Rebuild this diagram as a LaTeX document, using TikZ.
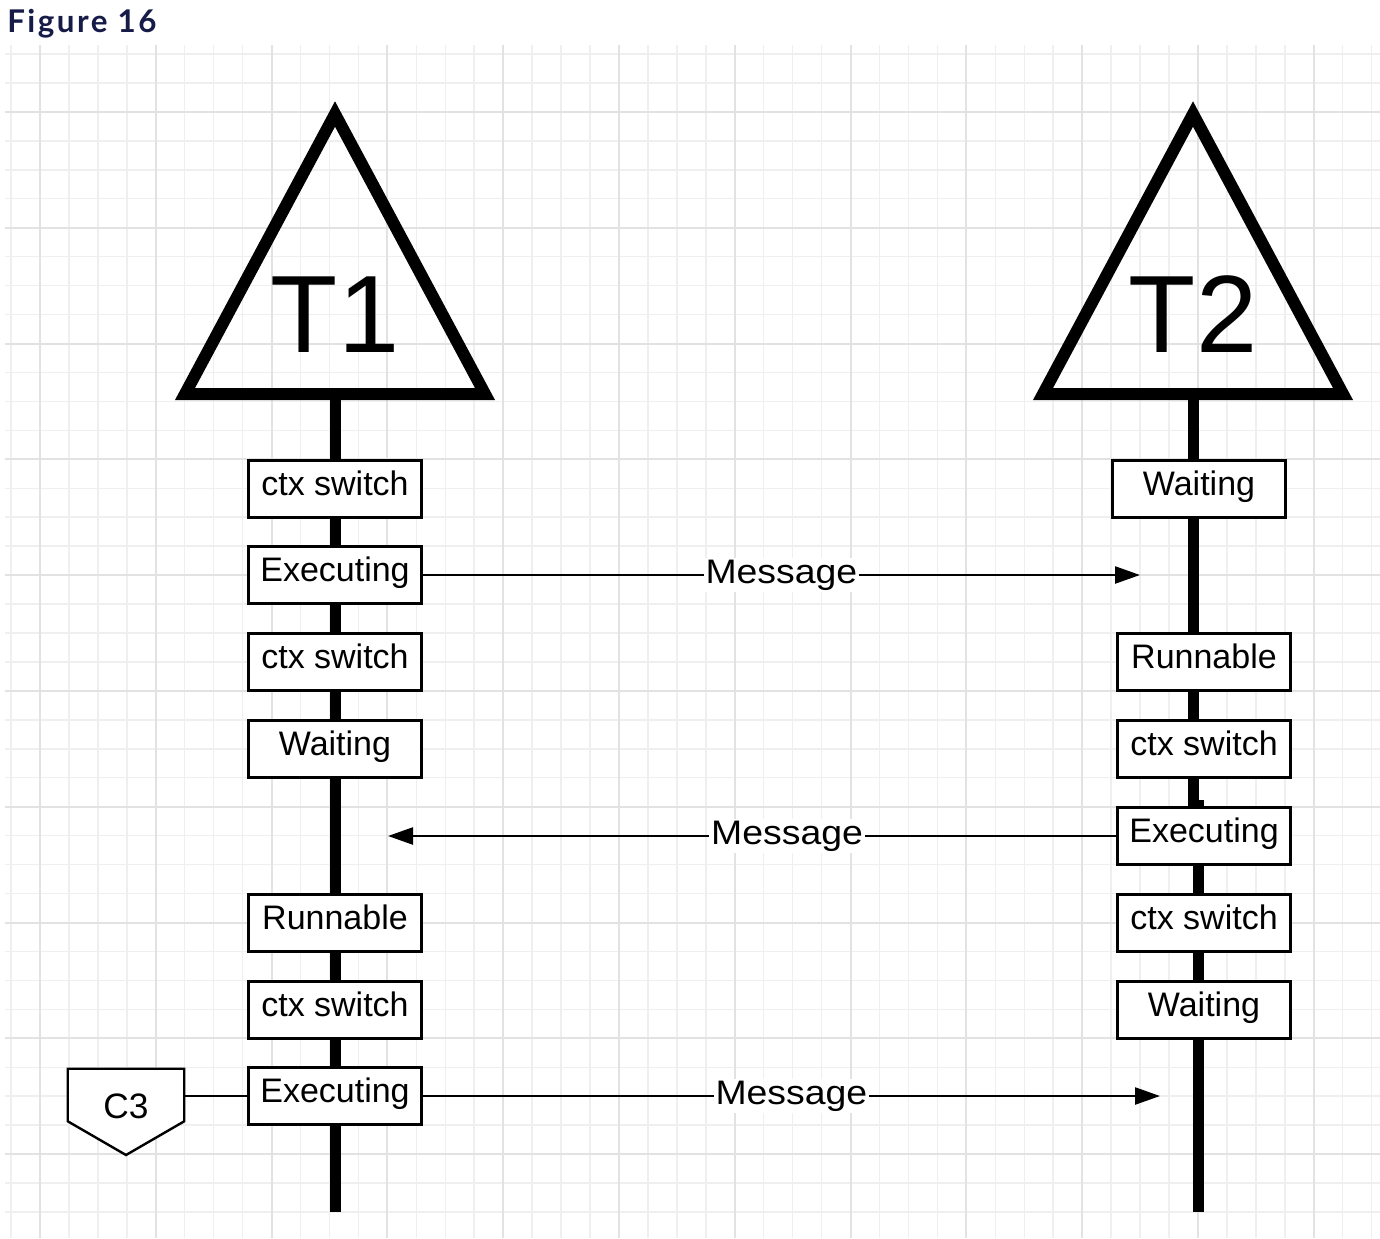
\documentclass[tikz,border=0pt]{standalone}
\usepackage{fontspec}
\setmainfont{Liberation Sans}
\newfontfamily\titlefont{Lato}[LetterSpace=8]
\usetikzlibrary{arrows.meta}
\definecolor{navy}{RGB}{22,27,72}
\definecolor{gminor}{RGB}{239,239,239}
\definecolor{gmajor}{RGB}{226,226,226}
\begin{document}
\begin{tikzpicture}[x=0.75pt,y=-0.75pt,
  gridminor/.style={draw=gminor, line width=1.1pt},
  gridmajor/.style={draw=gmajor, line width=1.4pt},
  statebox/.style={draw=black, line width=2pt, fill=white, minimum width=129.75pt, minimum height=42.75pt, inner sep=0pt, text height=18pt, text depth=8.25pt, font=\fontsize{25.5}{30}\selectfont},
  lifeline/.style={line width=8.25pt},
  tri/.style={line width=9pt, miter limit=10, line join=miter},
  msg/.style={line width=1.8pt, -{Triangle[length=18.75pt,width=12.75pt]}},
  msglbl/.style={fill=white, inner sep=1.5pt, font=\fontsize{25.5}{30}\selectfont},
  bigtxt/.style={font=\fontsize{82.5}{90}\selectfont, anchor=base, inner sep=0pt}
]
\useasboundingbox (0,0) rectangle (1380,1238);
\fill[white] (0,0) rectangle (1380,1238);
% grid
\foreach \k in {0,...,47} {
  \pgfmathsetmacro\gx{11+28.95*\k}
  \draw[gridminor] (\gx,45) -- (\gx,1238);
}
\foreach \k in {0,...,40} {
  \pgfmathsetmacro\gy{54+28.95*\k}
  \draw[gridminor] (5,\gy) -- (1380,\gy);
}
\foreach \m in {0,...,11} {
  \pgfmathsetmacro\gx{40+115.8*\m}
  \draw[gridmajor] (\gx,45) -- (\gx,1238);
}
\foreach \m in {0,...,9} {
  \pgfmathsetmacro\gy{112+115.8*\m}
  \draw[gridmajor] (5,\gy) -- (1380,\gy);
}
% title
\node[anchor=base west, inner sep=0pt, text=navy, font=\titlefont\bfseries\fontsize{23.5}{27}\selectfont] (title) at (7,33) {Figure 16};

% T1 triangle
\coordinate (t1apex) at (335,114);
\coordinate (t1left) at (185,394);
\coordinate (t1right) at (485,394);
\draw[tri] (t1apex) -- (t1right) -- (t1left) -- cycle;
\node[bigtxt] (t1) at (335,352) {T1};
% T2 triangle
\coordinate (t2apex) at (1193,114);
\coordinate (t2left) at (1043,394);
\coordinate (t2right) at (1343,394);
\draw[tri] (t2apex) -- (t2right) -- (t2left) -- cycle;
\node[bigtxt] (t2) at (1193,352) {T2};

% lifelines
\coordinate (l1top) at (335,394);
\coordinate (l1bot) at (335,1212);
\draw[lifeline] (l1top) -- (l1bot);
\coordinate (l2top) at (1193,394);
\coordinate (l2mid) at (1193,808);
\coordinate (l2midb) at (1198,800);
\coordinate (l2bot) at (1198,1212);
\draw[lifeline] (l2top) -- (l2mid);
\draw[lifeline] (l2midb) -- (l2bot);

% T1 boxes
\node[statebox] (a1) at (335,489) {ctx switch};
\node[statebox] (a2) at (335,575) {Executing};
\node[statebox] (a3) at (335,662) {ctx switch};
\node[statebox] (a4) at (335,749) {Waiting};
\node[statebox] (a5) at (335,923) {Runnable};
\node[statebox] (a6) at (335,1010) {ctx switch};
\node[statebox] (a7) at (335,1096) {Executing};
% T2 boxes
\node[statebox] (b1) at (1199,489) {Waiting};
\node[statebox] (b2) at (1204,662) {Runnable};
\node[statebox] (b3) at (1204,749) {ctx switch};
\node[statebox] (b4) at (1204,836) {Executing};
\node[statebox] (b5) at (1204,923) {ctx switch};
\node[statebox] (b6) at (1204,1010) {Waiting};

% messages
\coordinate (m1end) at (1140,575);
\coordinate (m2end) at (388,836);
\coordinate (m3end) at (1160,1096);
\draw[msg] (a2.east) -- node[msglbl, pos=0.5] (m1) {\scalebox{1.1}[1]{Message}} (m1end);
\draw[msg] (b4.west) -- node[msglbl, pos=0.452] (m2) {\scalebox{1.1}[1]{Message}} (m2end);
\draw[msg] (a7.east) -- node[msglbl, pos=0.5] (m3) {\scalebox{1.1}[1]{Message}} (m3end);

% C3
\node[inner sep=0pt, minimum width=87pt, minimum height=39pt] (c3box) at (126,1095) {};
\draw[line width=1.8pt, fill=white] (c3box.north west) -- (c3box.north east) -- (c3box.south east) -- (126,1155) -- (c3box.south west) -- cycle;
\node[anchor=base, inner sep=0pt, font=\fontsize{26.5}{30}\selectfont] (c3) at (126,1118) {C3};
\draw[line width=1.8pt] (a7.west) -- (c3box.east |- a7.west);
\end{tikzpicture}
\end{document}
